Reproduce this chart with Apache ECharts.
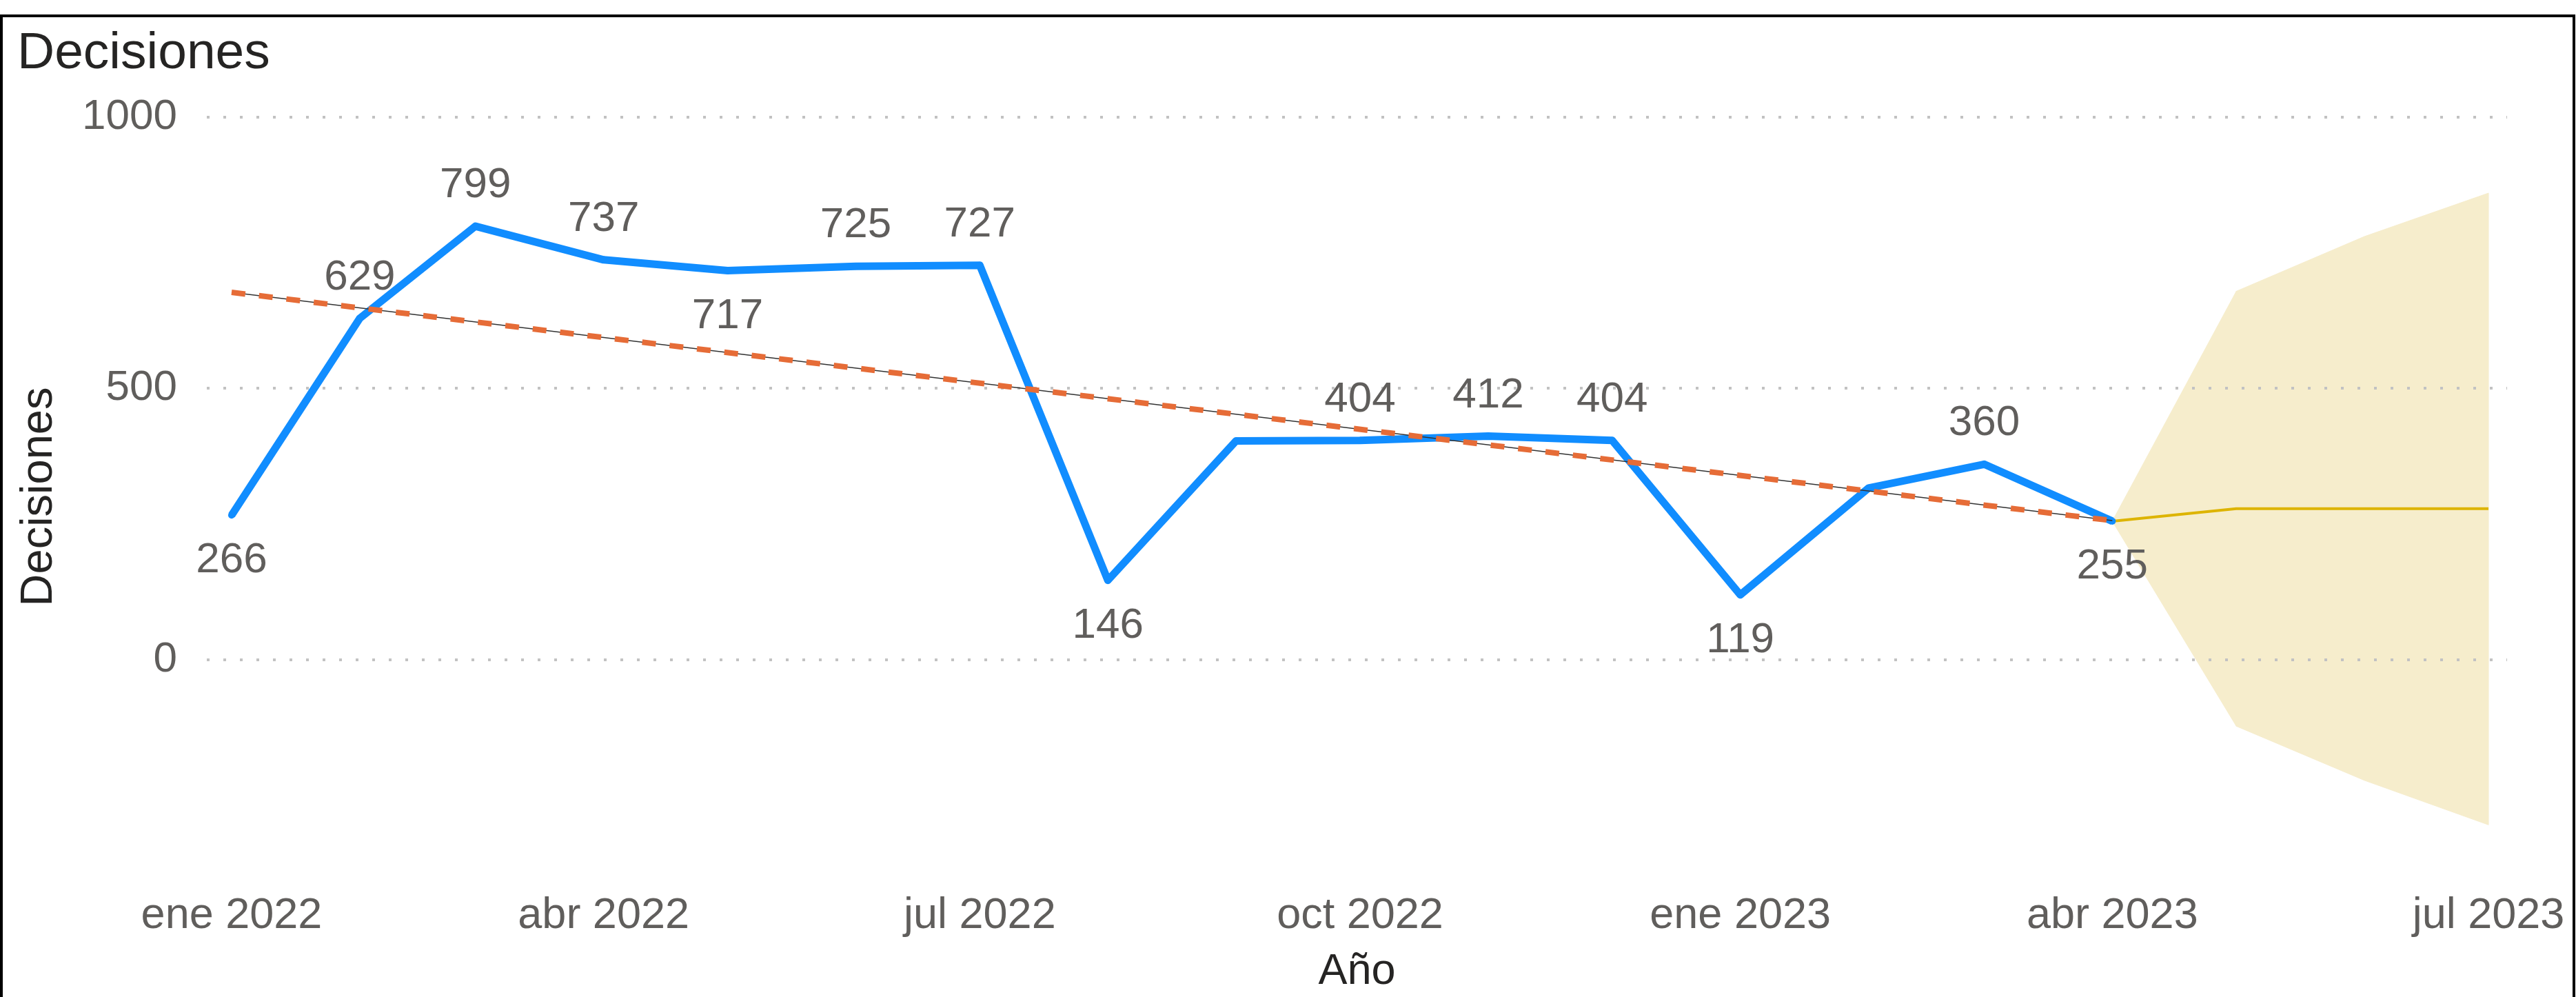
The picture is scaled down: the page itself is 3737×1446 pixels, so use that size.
<!DOCTYPE html>
<html>
<head>
<meta charset="utf-8">
<script src="https://cdn.jsdelivr.net/npm/echarts@6/dist/echarts.min.js"></script>
<style>
  html, body { margin: 0; padding: 0; background: #fff; }
  #chart { width: 3737px; height: 1446px; }
</style>
</head>
<body>
<div id="chart"></div>
<script>
// observed months (first day of each month)
const months = ['2022-01', '2022-02', '2022-03', '2022-04', '2022-05', '2022-06', '2022-07', '2022-08',
    '2022-09', '2022-10', '2022-11', '2022-12', '2023-01', '2023-02', '2023-03', '2023-04'];
const decisiones = [266, 629, 799, 737, 717, 725, 727, 146, 403, 404, 412, 404, 119, 316, 360, 255];
// where each data label sits, null = no label
const labelSide = ['bottom', 'top', 'top', 'top', 'bottom', 'top', 'top', 'bottom',
    null, 'top', 'top', 'top', 'bottom', null, 'top', 'bottom'];

// forecast with its confidence band
const forecastMonths = ['2023-04', '2023-05', '2023-06', '2023-07'];
const forecast = [255, 278, 278, 278];
const forecastLower = [255, -123, -223, -305];
const forecastUpper = [255, 679, 780, 860];

// trend line ends
const trendMonths = ['2022-01', '2023-04'];
const trend = [677, 256];

const xTicks = ['2022-01', '2022-04', '2022-07', '2022-10', '2023-01', '2023-04', '2023-07'];
const yTicks = [0, 500, 1000];
const monthNames = ['ene', 'feb', 'mar', 'abr', 'may', 'jun', 'jul', 'ago', 'sep', 'oct', 'nov', 'dic'];

function toTime(s) {
    let [y, m] = s.split('-').map(Number);
    return Date.UTC(y, m - 1, 1);
}
function pairs(xs, ys) {
    return xs.map((x, i) => [toTime(x), ys[i]]);
}

const FONT = '"Liberation Sans", Arial, sans-serif';
const GRAY = '#605E5C';
const DARK = '#252423';
const BAND = '#F6EDCC';

let chart = echarts.init(document.getElementById('chart'));

let blueData = months.map((m, i) => {
    let side = labelSide[i];
    return {
        value: [toTime(m), decisiones[i]],
        label: side ? { show: true, position: side, distance: side == 'top' ? 23 : 30 } : { show: false }
    };
});

// band drawn as one quad per forecast step
function renderBand(params, api) {
    let i = params.dataIndexInside;
    if (i >= params.dataInsideLength - 1) {
        return;
    }
    let pts = [
        api.coord([api.value(0, i), api.value(2, i)]),
        api.coord([api.value(0, i + 1), api.value(2, i + 1)]),
        api.coord([api.value(0, i + 1), api.value(1, i + 1)]),
        api.coord([api.value(0, i), api.value(1, i)])
    ];
    return {
        type: 'polygon',
        shape: { points: pts },
        style: { fill: BAND, stroke: BAND, lineWidth: 1 }
    };
}

chart.setOption({
    animation: false,
    backgroundColor: '#fff',
    title: {
        text: 'Decisiones',
        left: 20,
        top: 36,
        textStyle: { fontFamily: FONT, fontSize: 75, fontWeight: 'normal', color: DARK }
    },
    graphic: [{
        type: 'rect',
        shape: { x: 2, y: 23, width: 3732, height: 1500 },
        style: { fill: 'none', stroke: '#000', lineWidth: 4 },
        silent: true
    }],
    grid: { left: 300, right: 100, top: 170, bottom: 169 },
    xAxis: {
        type: 'value',
        min: Date.UTC(2021, 11, 26),
        max: Date.UTC(2023, 6, 5, 12),
        name: 'Año',
        nameLocation: 'middle',
        nameGap: 107,
        nameTextStyle: { fontFamily: FONT, fontSize: 63, color: DARK },
        axisLine: { show: false },
        axisTick: { show: false },
        splitLine: { show: false },
        axisLabel: {
            customValues: xTicks.map(toTime),
            margin: 26,
            fontFamily: FONT,
            fontSize: 63,
            color: GRAY,
            formatter: v => {
                let d = new Date(v);
                return monthNames[d.getUTCMonth()] + ' ' + d.getUTCFullYear();
            }
        }
    },
    yAxis: {
        type: 'value',
        min: -400,
        max: 1000,
        name: 'Decisiones',
        nameLocation: 'middle',
        nameRotate: 90,
        nameGap: 210,
        nameTextStyle: { fontFamily: FONT, fontSize: 65, color: DARK },
        axisLine: { show: false },
        axisTick: { show: false, customValues: yTicks },
        axisLabel: {
            customValues: yTicks,
            margin: 43,
            fontFamily: FONT,
            fontSize: 62,
            color: GRAY,
            formatter: v => String(v)
        },
        splitLine: {
            show: true,
            lineStyle: { color: '#C2C2C2', width: 4, type: [4, 20] }
        }
    },
    series: [
        {
            name: 'band',
            type: 'custom',
            z: -1,
            renderItem: renderBand,
            encode: { x: 0, y: [1, 2] },
            data: forecastMonths.map((m, i) => [toTime(m), forecastLower[i], forecastUpper[i]])
        },
        {
            name: 'forecast',
            type: 'line',
            z: 3,
            data: pairs(forecastMonths, forecast),
            symbol: 'none',
            lineStyle: { color: '#DDB400', width: 4 }
        },
        {
            name: 'Decisiones',
            type: 'line',
            z: 4,
            data: blueData,
            symbol: 'circle',
            symbolSize: 10,
            itemStyle: { color: '#118DFF' },
            lineStyle: { color: '#118DFF', width: 11, join: 'round' },
            label: {
                fontFamily: FONT,
                fontSize: 62,
                lineHeight: 62,
                color: GRAY,
                formatter: p => p.value[1]
            }
        },
        {
            name: 'trendBase',
            type: 'line',
            z: 5,
            data: pairs(trendMonths, trend),
            symbol: 'none',
            lineStyle: { color: '#333', width: 1.5 }
        },
        {
            name: 'trend',
            type: 'line',
            z: 6,
            data: pairs(trendMonths, trend),
            symbol: 'none',
            lineStyle: { color: '#E66C37', width: 8, type: [20, 20] }
        }
    ]
});
</script>
</body>
</html>
